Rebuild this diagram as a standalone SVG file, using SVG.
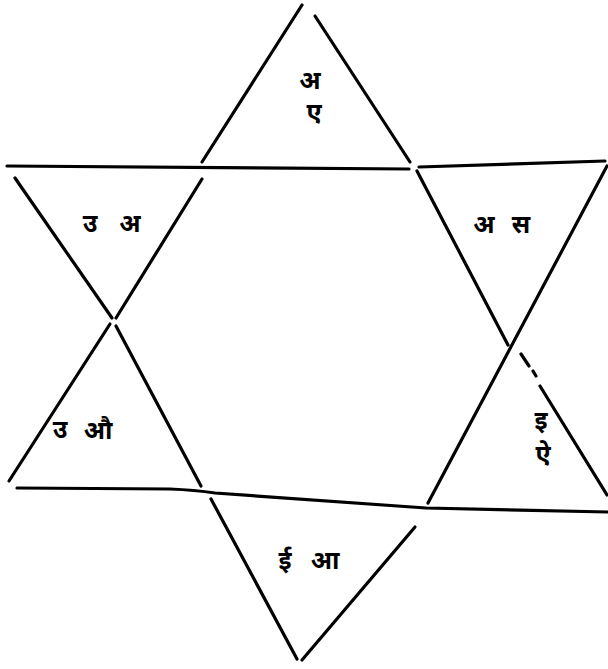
<svg xmlns="http://www.w3.org/2000/svg" width="608" height="669" viewBox="0 0 608 669">
<style>
.ln{fill:none;stroke:#000;stroke-width:3.2;stroke-linecap:round;stroke-linejoin:round}
.t{font-family:"Noto Sans Devanagari","Noto Sans",sans-serif;font-size:25px;font-weight:bold;fill:#000;text-anchor:middle}
</style>
<rect width="608" height="669" fill="#fff"/>
<g id="connectors">
<path class="ln" d="M202,162 L302,5"/>
<path class="ln" d="M315,16 L410,162"/>
<path class="ln" d="M7,166 L409,169"/>
<path class="ln" d="M419,167 L605,161"/>
<path class="ln" d="M15,178 L112,318"/>
<path class="ln" d="M202,179 L116,318"/>
<path class="ln" d="M110,324 L9,481"/>
<path class="ln" d="M116,326 L201,486"/>
<path class="ln" d="M17,488 L170,489 Q195,490 215,493 L426,508 L608,512"/>
<path class="ln" d="M417,171 L508,345"/>
<path class="ln" d="M607,166 L428,503"/>
<path class="ln" d="M521,354 L529,366 M533,371 L536,376 M540,386 L607,495"/>
<path class="ln" d="M211,499 L297,659"/>
<path class="ln" d="M415,527 L302,660"/>
</g>
<g id="top"><text class="t" x="310" y="89">अ</text><text class="t" x="314" y="121">ए</text></g>
<g id="upper-left"><text class="t" x="90" y="232">उ</text><text class="t" x="130" y="232">अ</text></g>
<g id="upper-right"><text class="t" x="484" y="233">अ</text><text class="t" x="521" y="233">स</text></g>
<g id="lower-left"><text class="t" x="60" y="438">उ</text><text class="t" x="98" y="439">औ</text></g>
<g id="lower-right"><text class="t" x="541" y="429">इ</text><text class="t" x="543" y="463">ऐ</text></g>
<g id="bottom"><text class="t" x="285" y="569">ई</text><text class="t" x="325" y="569">आ</text></g>
</svg>
